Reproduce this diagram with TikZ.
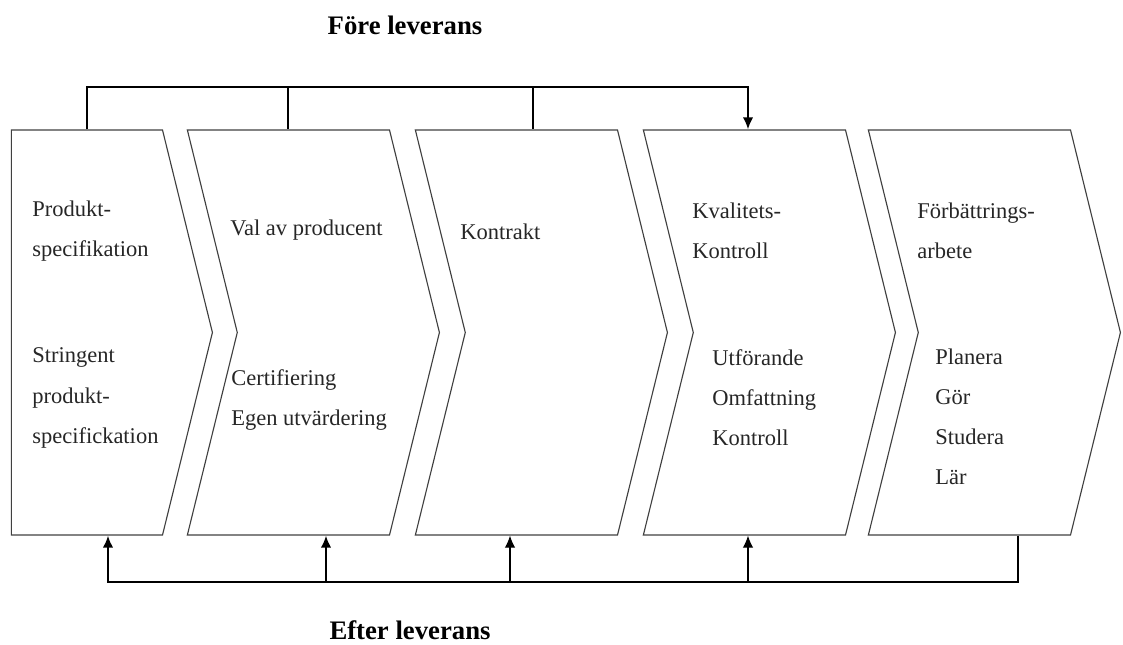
\documentclass[tikz,border=0pt]{standalone}
\usepackage{fontspec}
\setmainfont{Liberation Serif}
\usetikzlibrary{
arrows.meta,
positioning,
shapes.symbols
}
\tikzset{>={Latex[length=3mm,width=2.6mm]}}

\begin{document}
\begin{tikzpicture}[x=0.025cm, y=-0.025cm, font=\fontsize{16}{28.5}\selectfont]
		\tikzset{chev/.style={shape=signal,draw=black!75,line width=0.8pt,signal to=east,signal pointer angle=152.3,minimum height=10.125cm,inner sep=0pt,anchor=east}}
		\tikzset{chevn/.style={chev,signal from=west,minimum width=6.3cm}}
		\tikzset{lbl/.style={anchor=west,align=left,inner sep=0pt,text=black!85}}
		\tikzset{head/.style={font=\fontsize{19}{21}\selectfont\bfseries}}
		\tikzset{bus/.style={line width=1.4pt}}
		\tikzset{tap/.style={line width=0.8pt}}
		\useasboundingbox (0,0) rectangle (1123,644);

		% Chevrons
		\node[chev,signal from=nowhere,minimum width=5.025cm] (spec) at (213,332.5) {};
		\node[chevn] (val) at (440,332.5) {};
		\node[chevn] (kontrakt) at (668,332.5) {};
		\node[chevn] (kvalitet) at (896,332.5) {};
		\node[chevn] (forb) at (1121,332.5) {};

		% Texts
		\node[lbl] (spec top) at (32,231) {Produkt-\\specifikation};
		\node[lbl] (spec bot) at (32,398) {Stringent\\produkt-\\specifickation};
		\node[lbl] (val top) at (230,230) {Val av producent};
		\node[lbl] (val bot) at (231,400) {Certifiering\\Egen utvärdering};
		\node[lbl] (kontrakt top) at (460,232) {Kontrakt};
		\node[lbl] (kvalitet top) at (692,231) {Kvalitets-\\Kontroll};
		\node[lbl] (kvalitet bot) at (712,398) {Utförande\\Omfattning\\Kontroll};
		\node[lbl] (forb top) at (917,231) {Förbättrings-\\arbete};
		\node[lbl] (forb bot) at (935,417) {Planera\\Gör\\Studera\\Lär};

		\node[head] (fore) at (405,25) {Före leverans};
		\node[head] (efter) at (410,630) {Efter leverans};

		% Before delivery
		\coordinate (tb1) at (87,87);
		\coordinate (tb2) at (288,87);
		\coordinate (tb3) at (533,87);
		\coordinate (tb4) at (748,87);
		\draw[bus,->] (tb1 |- spec.north) -- (tb1) -- (tb4) -- (tb4 |- kvalitet.north);
		\draw[bus] (tb2) -- (tb2 |- val.north);
		\draw[tap] (tb3) -- (tb3 |- kontrakt.north);

		% After delivery
		\coordinate (bb1) at (108,582);
		\coordinate (bb2) at (326,582);
		\coordinate (bb3) at (510,582);
		\coordinate (bb4) at (748,582);
		\coordinate (bb5) at (1018,582);
		\draw[bus,->] (bb5 |- forb.south) -- (bb5) -- (bb1) -- (bb1 |- spec.south);
		\draw[bus,->] (bb2) -- (bb2 |- val.south);
		\draw[tap,->] (bb3) -- (bb3 |- kontrakt.south);
		\draw[tap,->] (bb4) -- (bb4 |- kvalitet.south);
	\end{tikzpicture}
\end{document}
